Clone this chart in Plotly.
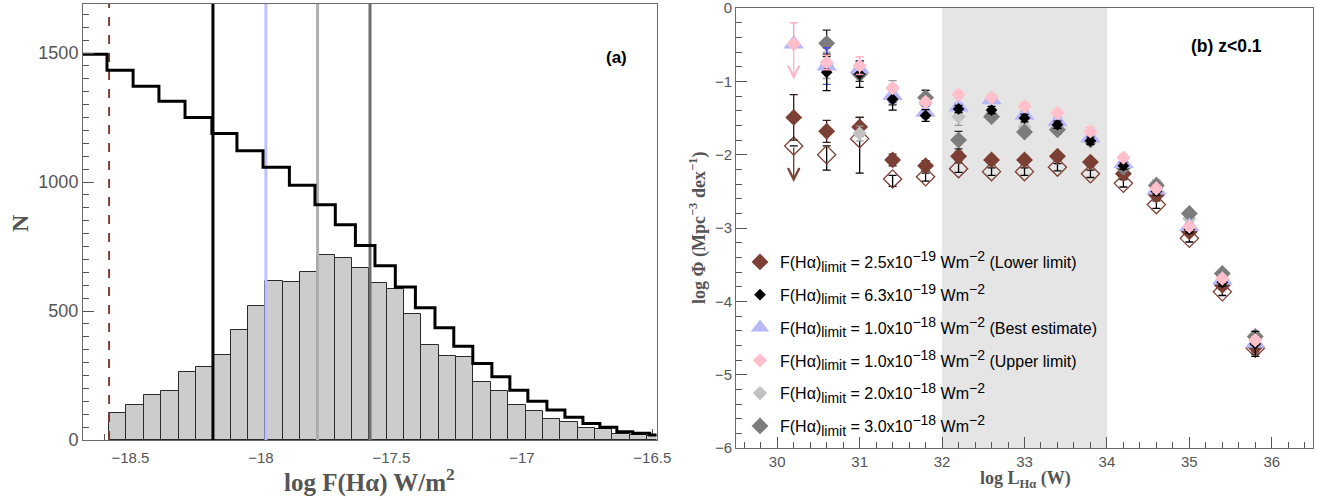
import numpy as np
import plotly.graph_objects as go

# ---------------- Panel (a) data ----------------
hist_counts = [103, 137, 173, 191, 262, 284, 331, 427, 518, 616, 614, 652, 717, 706, 666, 610,
               587, 490, 367, 325, 320, 224, 190, 134, 111, 81, 68, 46, 43, 23, 18, 15]
hist_first_edge = -18.582
hist_bin_width = 0.0665

step_edges = [-18.70, -18.590, -18.490, -18.391, -18.291, -18.188, -18.092, -17.992, -17.891,
              -17.793, -17.715, -17.638, -17.563, -17.485, -17.408, -17.333, -17.261, -17.188,
              -17.115, -17.046, -16.977, -16.904, -16.835, -16.766, -16.701, -16.636, -16.575,
              -16.510, -16.45]
step_values = [1495, 1433, 1371, 1313, 1250, 1188, 1121, 1057, 987, 912, 834, 754, 675, 593,
               513, 435, 363, 297, 245, 193, 150, 116, 88, 64, 49, 32, 26, 19]

limit_lines = [-18.184, -17.981, -17.783, -17.582]
limit_colors = ["#000000", "#c0c0fa", "#b0b0b0", "#6e6e6e"]
lower_limit_line = -18.582

# ---------------- Panel (b) data ----------------
logL = [30.2, 30.6, 31.0, 31.4, 31.8, 32.2, 32.6, 33.0, 33.4, 33.8, 34.2, 34.6, 35.0, 35.4, 35.8]
phi_lower = [-1.49, -1.68, -1.62, -2.07, -2.15, -2.02, -2.07, -2.07, -2.02, -2.10, -2.26, -2.55, -3.05, -3.78, -4.62]
phi_lower_err = [0.31, 0.15, 0.13, 0.08, 0.07, 0.06, 0.05, 0.05, 0.05, 0.05, 0.05, 0.05, 0.05, 0.05, 0.10]
phi_open = [-1.88, -2.00, -1.78, -2.33, -2.30, -2.19, -2.23, -2.23, -2.17, -2.26, -2.39, -2.68, -3.14, -3.87, -4.64]
phi_open_err_plus = [0.0, 0.12, 0.29, 0.05, 0.05, 0.08, 0.05, 0.05, 0.05, 0.05, 0.05, 0.05, 0.05, 0.05, 0.05]
phi_open_err_minus = [0.0, 0.21, 0.47, 0.10, 0.06, 0.05, 0.05, 0.05, 0.05, 0.05, 0.05, 0.05, 0.05, 0.05, 0.05]
phi_63 = [None, -0.876, -0.90, -1.24, -1.465, -1.375, -1.39, -1.50, -1.59, -1.81, -2.15, -2.50, -3.02, -3.74, -4.58]
phi_63_err = [0.0, 0.25, 0.18, 0.15, 0.08, 0.05, 0.05, 0.05, 0.05, 0.05, 0.05, 0.05, 0.05, 0.05, 0.17]
phi_best = [-0.49, -0.79, -0.83, -1.19, -1.42, -1.35, -1.25, -1.46, -1.55, -1.77, -2.12, -2.48, -2.98, -3.71, -4.57]
phi_best_err = [0.0, 0.25, 0.10, 0.10, 0.08, 0.05, 0.05, 0.05, 0.05, 0.05, 0.05, 0.05, 0.05, 0.05, 0.05]
phi_upper = [-0.49, -0.74, -0.785, -1.09, -1.28, -1.18, -1.22, -1.34, -1.43, -1.68, -2.04, -2.46, -2.98, -3.69, -4.53]
phi_upper_err = [0.29, 0.10, 0.12, 0.05, 0.05, 0.05, 0.05, 0.05, 0.05, 0.05, 0.05, 0.05, 0.05, 0.05, 0.05]
phi_20 = [None, -0.78, -1.71, -1.09, -1.30, -1.48, -1.45, -1.62, -1.64, -1.80, -2.17, -2.39, -2.87, -3.63, -4.49]
phi_30 = [None, -0.48, -0.90, -1.22, -1.22, -1.80, -1.48, -1.69, -1.66, -1.80, -2.17, -2.42, -2.80, -3.62, -4.48]
phi_30_err = [0.0, 0.18, 0.10, 0.10, 0.10, 0.12, 0.05, 0.05, 0.05, 0.05, 0.05, 0.05, 0.05, 0.05, 0.05]

# limit arrows: x, from, to, colour
arrow_x = [30.2, 30.2]
arrow_from = [-0.49, -1.88]
arrow_to = [-0.97, -2.37]
arrow_colors = ["#ffb6c8", "#7b3f33"]

shade_range = [32, 34]

limit_values = ["2.5", "6.3", "1.0", "1.0", "2.0", "3.0"]
limit_exponents = ["−19", "−19", "−18", "−18", "−18", "−18"]
limit_notes = [" (Lower limit)", "", " (Best estimate)", " (Upper limit)", "", ""]


def small(t):
    return "<span style='font-size:14px'>" + t + "</span>"


legend_labels = ["F(Hα)<sub>" + small("limit") + "</sub> = " + v + "x10<sup>" + small(e)
                 + "</sup> Wm<sup>" + small("−2") + "</sup>" + n
                 for v, e, n in zip(limit_values, limit_exponents, limit_notes)]

BROWN = "#7b3f33"
BLUE = "#b9b9f7"
PINK = "#ffc0cb"
LGRAY = "#c2c2c2"
DGRAY = "#7c7c7c"
TICKC = "#555555"

W, H = 1322, 500


def px(sx):
    return sx / W


def py(sy):
    return 1 - sy / H


fig = go.Figure()

# ---------------- Panel (a) ----------------
centers = hist_first_edge + hist_bin_width * (np.arange(len(hist_counts)) + 0.5)
fig.add_trace(go.Bar(x=centers, y=hist_counts, width=hist_bin_width,
                     marker=dict(color="#cccccc", line=dict(color="#2a2a2a", width=1)),
                     xaxis="x", yaxis="y", showlegend=False))

for xv, c in zip(limit_lines, limit_colors):
    fig.add_trace(go.Scatter(x=[xv, xv], y=[0, 1700], mode="lines",
                             line=dict(color=c, width=3), xaxis="x", yaxis="y",
                             showlegend=False, hoverinfo="skip"))
fig.add_trace(go.Scatter(x=[lower_limit_line, lower_limit_line], y=[0, 1700], mode="lines",
                         line=dict(color=BROWN, width=2, dash="dash"), xaxis="x", yaxis="y",
                         showlegend=False, hoverinfo="skip"))

fig.add_trace(go.Scatter(x=step_edges, y=step_values + [step_values[-1]], mode="lines",
                         line=dict(color="black", width=3, shape="hv"),
                         xaxis="x", yaxis="y", showlegend=False))


# ---------------- Panel (b) ----------------
def eb(arr, color, arrminus=None):
    d = dict(type="data", array=arr, color=color, thickness=1.3, width=4, visible=True)
    if arrminus is not None:
        d["arrayminus"] = arrminus
        d["symmetric"] = False
    return d


fig.add_trace(go.Scatter(x=logL, y=phi_open, mode="markers",
                         marker=dict(symbol="diamond-open", size=14, color=BROWN, line=dict(width=1.3)),
                         error_y=eb(phi_open_err_plus, "#000000", phi_open_err_minus),
                         xaxis="x2", yaxis="y2", showlegend=False))
fig.add_trace(go.Scatter(x=logL, y=phi_lower, mode="markers", name=legend_labels[0], legendrank=1,
                         legendgroup="g1",
                         marker=dict(symbol="diamond", size=13, color=BROWN),
                         error_y=eb(phi_lower_err, "#3a1a14"),
                         xaxis="x2", yaxis="y2"))
fig.add_trace(go.Scatter(x=logL, y=phi_20, mode="markers", name=legend_labels[4], legendrank=5,
                         legendgroup="g5",
                         marker=dict(symbol="diamond", size=11, color=LGRAY),
                         error_y=eb(phi_30_err, "#999999"),
                         xaxis="x2", yaxis="y2"))
fig.add_trace(go.Scatter(x=logL, y=phi_30, mode="markers", name=legend_labels[5], legendrank=6,
                         legendgroup="g6",
                         marker=dict(symbol="diamond", size=13, color=DGRAY),
                         error_y=eb(phi_30_err, "#222222"),
                         xaxis="x2", yaxis="y2"))
fig.add_trace(go.Scatter(x=logL, y=phi_best, mode="markers", name=legend_labels[2], legendrank=3,
                         legendgroup="g3",
                         marker=dict(symbol="triangle-up", size=18, color=BLUE),
                         error_y=eb(phi_best_err, "#5050e0"),
                         xaxis="x2", yaxis="y2"))
fig.add_trace(go.Scatter(x=logL, y=phi_63, mode="markers", name=legend_labels[1], legendrank=2,
                         legendgroup="g2",
                         marker=dict(symbol="diamond", size=9, color="black"),
                         error_y=eb(phi_63_err, "#000000"),
                         xaxis="x2", yaxis="y2"))
fig.add_trace(go.Scatter(x=logL, y=phi_upper, mode="markers", name=legend_labels[3], legendrank=4,
                         legendgroup="g4",
                         marker=dict(symbol="diamond", size=11, color=PINK),
                         error_y=eb(phi_upper_err, "#ff9fb5", [0.0] + phi_upper_err[1:]),
                         xaxis="x2", yaxis="y2"))

annotations = []
for xa, f, t, c in zip(arrow_x, arrow_from, arrow_to, arrow_colors):
    annotations.append(dict(x=xa, y=t, ax=xa, ay=f, xref="x2", yref="y2", axref="x2", ayref="y2",
                            text="", showarrow=True, arrowhead=5, arrowsize=1.6, arrowwidth=1.4,
                            arrowcolor=c, standoff=0, startstandoff=0))

serif = "Liberation Serif"
sans = "Liberation Sans"
lab = dict(xref="paper", yref="paper", showarrow=False, xanchor="center", yanchor="middle")
annotations += [
    dict(text="<b>(a)</b>", x=px(616.5), y=py(58),
         font=dict(family=sans, size=17, color="black"), **lab),
    dict(text="<b>(b) z<0.1</b>", x=px(1226.5), y=py(46),
         font=dict(family=sans, size=17.5, color="black"), **lab),
    dict(text="<b>log F(Hα) W/m<sup>2</sup></b>", x=px(369), y=py(480),
         font=dict(family=serif, size=25, color=TICKC), **lab),
    dict(text="<b>N</b>", x=px(20), y=py(223), textangle=-90,
         font=dict(family=serif, size=24, color=TICKC), **lab),
    dict(text="<b>log Φ (Mpc<sup>−3</sup> dex<sup>−1</sup>)</b>", x=px(698), y=py(228),
         textangle=-90, font=dict(family=serif, size=18, color=TICKC), **lab),
    dict(text="<b>log L<sub>Hα</sub> (W)</b>", x=px(1025), y=py(479),
         font=dict(family=serif, size=18, color=TICKC), **lab),
]

shapes = [dict(type="rect", xref="x2", yref="y2 domain", x0=shade_range[0], x1=shade_range[1],
               y0=0, y1=1, fillcolor="#e5e5e5", line=dict(width=0), layer="below")]

axis_common = dict(showline=True, linecolor="#6a6a6a", linewidth=1, mirror=True, ticks="inside",
                   tickcolor="#555555", ticklen=11, tickwidth=1, showgrid=False, zeroline=False,
                   automargin=False, ticklabeloverflow="allow")

fig.update_layout(
    width=W, height=H, margin=dict(l=0, r=0, t=0, b=0),
    paper_bgcolor="white", plot_bgcolor="white", bargap=0,
    xaxis=dict(domain=[px(83), px(656.5)], range=[-18.682, -16.484], tick0=-18.5, dtick=0.5,
               layer="below traces", anchor="y", ticklabelstandoff=4,
               minor=dict(ticks="inside", ticklen=6, dtick=0.1, tickcolor="#555555", showgrid=False),
               tickfont=dict(family=sans, size=15, color=TICKC), **axis_common),
    yaxis=dict(domain=[py(440), py(4)], range=[0, 1690], tick0=0, dtick=500, anchor="x",
               minor=dict(ticks="inside", ticklen=6, dtick=50, tickcolor="#555555", showgrid=False),
               tickfont=dict(family=sans, size=18, color=TICKC), **axis_common),
    xaxis2=dict(domain=[px(736), px(1313)], range=[29.5, 36.5], tick0=30, dtick=1, anchor="y2",
                minor=dict(ticks="inside", ticklen=6, dtick=0.2, tickcolor="#555555", showgrid=False),
                tickfont=dict(family=sans, size=15, color=TICKC), **axis_common),
    yaxis2=dict(domain=[py(448), py(8)], range=[-6, 0.002], tick0=0, dtick=1, anchor="x2",
                minor=dict(ticks="inside", ticklen=6, dtick=0.2, tickcolor="#555555", showgrid=False),
                tickfont=dict(family=sans, size=15, color=TICKC), **axis_common),
    legend=dict(x=px(740), y=py(245), xanchor="left", yanchor="top",
                bgcolor="rgba(0,0,0,0)", font=dict(family=sans, size=16, color="black"),
                tracegroupgap=9, itemsizing="trace", traceorder="grouped"),
    annotations=annotations, shapes=shapes,
)

# remove the default 8px page margin so the figure sits at the window's top-left corner
fig.write_html("out.html", config={"displayModeBar": False},
               post_script="document.body.style.margin='0px';")
